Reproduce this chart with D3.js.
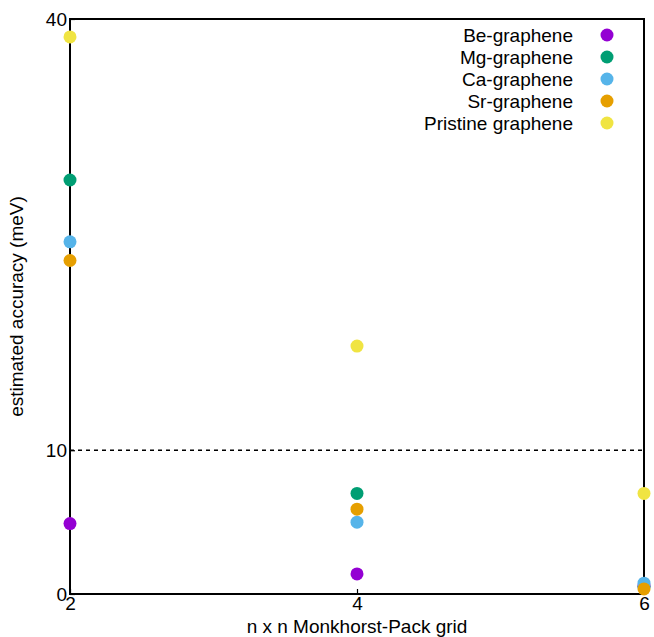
<!DOCTYPE html>
<html lang="en">
<head>
<meta charset="UTF-8">
<title>estimated accuracy</title>
<script src="https://cdn.jsdelivr.net/npm/d3@7"></script>
<style>
  body { margin: 0; background: #fff; }
  text { font-family: "Liberation Sans", Arial, sans-serif; fill: #000; }
</style>
</head>
<body>
<svg id="chart" width="654" height="637"></svg>
<script>
// data
var grids = [2, 4, 6]
var seriesNames = ['Be-graphene', 'Mg-graphene', 'Ca-graphene', 'Sr-graphene', 'Pristine graphene']
var seriesColors = ['#9400d3', '#009e73', '#56b4e9', '#e69f00', '#f0e442']
var beValues = [4.9, 1.4, 0.55]
var mgValues = [28.8, 7.0, 0.5]
var caValues = [24.5, 5.0, 0.75]
var srValues = [23.2, 5.9, 0.35]
var pristineValues = [38.75, 17.25, 7.0]
var yTicks = [0, 10, 40]
var xTicks = [2, 4, 6]

var allValues = [beValues, mgValues, caValues, srValues, pristineValues]

var plotLeft = 70, plotRight = 644, plotTop = 19, plotBottom = 594

var x = d3.scaleLinear().domain([2, 6]).range([plotLeft, plotRight])
var y = d3.scaleLinear().domain([0, 40]).range([plotBottom, plotTop])

var svg = d3.select('#chart')

// dashed reference line at 10
svg.append('line')
  .attr('x1', plotLeft).attr('x2', plotRight)
  .attr('y1', y(10)).attr('y2', y(10))
  .style('stroke', '#000').style('stroke-width', 1.5)
  .style('stroke-dasharray', '4,4')

// axes
svg.append('g').attr('transform', 'translate(0,' + plotBottom + ')')
  .call(d3.axisBottom(x).tickValues(xTicks).tickFormat(d3.format('d')).tickSize(-5).tickPadding(2))
svg.append('g').attr('transform', 'translate(' + plotLeft + ',0)')
  .call(d3.axisLeft(y).tickValues(yTicks).tickFormat(d3.format('d')).tickSize(-5).tickPadding(3))
svg.selectAll('.domain').remove()
svg.selectAll('.tick line').style('stroke', '#000').style('stroke-width', 1.2)
svg.selectAll('.tick text').style('font-size', '19px').style('font-family', '"Liberation Sans", Arial, sans-serif')

// frame
svg.append('rect')
  .attr('x', plotLeft).attr('y', plotTop)
  .attr('width', plotRight - plotLeft).attr('height', plotBottom - plotTop)
  .style('fill', 'none').style('stroke', '#000').style('stroke-width', 2)

// points
allValues.forEach(function (vals, s) {
  svg.append('g').selectAll('circle')
    .data(vals)
    .enter().append('circle')
    .attr('cx', function (d, i) { return x(grids[i]) })
    .attr('cy', function (d) { return y(d) })
    .attr('r', 6.5)
    .style('fill', seriesColors[s])
})

// legend
var legend = svg.append('g')
seriesNames.forEach(function (name, i) {
  var ly = 35 + i * 22
  legend.append('text')
    .attr('x', 573).attr('y', ly)
    .attr('dy', '0.35em')
    .style('text-anchor', 'end')
    .style('font-size', '19px')
    .text(name)
  legend.append('circle')
    .attr('cx', 607).attr('cy', ly).attr('r', 6.5)
    .style('fill', seriesColors[i])
})

// axis titles
svg.append('text')
  .attr('x', 357).attr('y', 633)
  .style('text-anchor', 'middle').style('font-size', '19px')
  .text('n x n Monkhorst-Pack grid')
svg.append('text')
  .attr('transform', 'translate(23,' + ((plotTop + plotBottom) / 2) + ') rotate(-90)')
  .style('text-anchor', 'middle').style('font-size', '19px')
  .text('estimated accuracy (meV)')
</script>
</body>
</html>
